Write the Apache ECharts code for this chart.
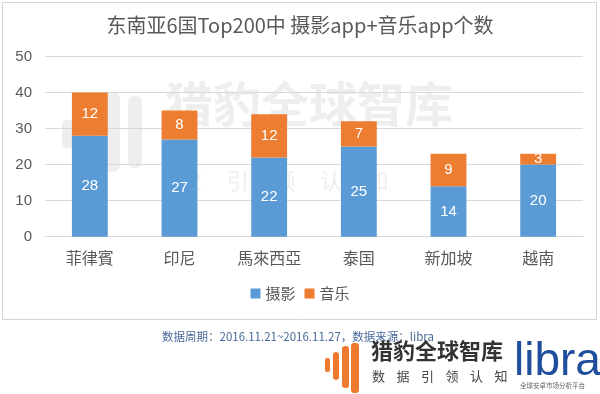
<!DOCTYPE html>
<html><head><meta charset="utf-8">
<script src="https://cdn.jsdelivr.net/npm/echarts@6/dist/echarts.min.js"></script>
<style>html,body{margin:0;padding:0;background:#fff}#c{width:600px;height:394px}</style>
</head><body><div id="c"></div>
<script>
const categories = ['菲律賓','印尼','馬來西亞','泰国','新加坡','越南'];
const photo = [28,27,22,25,14,20];
const music = [12,8,12,7,9,3];
const seriesNames = ['摄影','音乐'];
const titleText = '东南亚6国Top200中 摄影app+音乐app个数';
const footText = '数据周期：2016.11.21~2016.11.27，数据来源：libra';
const sloganChars = ['数','据','引','领','认','知'];

const chart = echarts.init(document.getElementById('c'));
const font = '"Microsoft YaHei","Noto Sans CJK SC",sans-serif';
const wm = 'rgba(170,170,170,0.2)';
chart.setOption({
  backgroundColor:'#fff',
  animation:false,
  title:{text:titleText,left:'center',top:10,textStyle:{fontSize:20,fontWeight:'normal',color:'#595959',fontFamily:font}},
  legend:{data:seriesNames,bottom:88,left:'center',itemWidth:10,itemHeight:10,itemGap:9,icon:'rect',
    textStyle:{fontSize:15,color:'#595959',fontFamily:font}},
  grid:{left:45,right:17,top:56.5,bottom:157.3,containLabel:false},
  xAxis:{type:'category',data:categories,axisTick:{show:false},
    axisLine:{lineStyle:{color:'#d9d9d9'}},
    axisLabel:{fontSize:16,color:'#595959',margin:13,fontFamily:font}},
  yAxis:{type:'value',min:0,max:50,interval:10,
    axisLabel:{fontSize:15,color:'#595959',margin:13,fontFamily:'Arial,"Liberation Sans",sans-serif'},
    splitLine:{lineStyle:{color:'#d9d9d9'}}},
  series:[
    {name:seriesNames[0],type:'bar',stack:'a',data:photo,barWidth:'40%',itemStyle:{color:'#5b9bd5'},
     label:{show:true,position:'inside',color:'#fff',fontSize:15,fontFamily:'Arial,sans-serif'},z:3},
    {name:seriesNames[1],type:'bar',stack:'a',data:music,barWidth:'40%',itemStyle:{color:'#ed7d31'},
     label:{show:true,position:'inside',color:'#fff',fontSize:15,fontFamily:'Arial,sans-serif'},z:3}
  ],
  graphic:[
    {type:'rect',shape:{x:2.5,y:2.5,width:594,height:317},style:{fill:null,stroke:'#d4d4d4',lineWidth:1},z:-10,silent:true},
    // faint watermark
    {type:'text',left:165,top:80,style:{text:'猎豹全球智库',fontSize:48,fontWeight:'bold',fill:wm,fontFamily:font},z:-5,silent:true},
    {type:'text',left:180,top:170,style:{text:'数     引     领     认     知',fontSize:22,fill:wm,fontFamily:font},z:-5,silent:true},
    {type:'group',left:62,top:92,z:-5,silent:true,children:[
      {type:'rect',shape:{x:0,y:28,width:12,height:28,r:5},style:{fill:wm}},
      {type:'rect',shape:{x:20,y:14,width:14,height:60,r:6},style:{fill:wm}},
      {type:'rect',shape:{x:42,y:0,width:16,height:80,r:7},style:{fill:wm}},
      {type:'rect',shape:{x:66,y:4,width:14,height:72,r:6},style:{fill:wm}}
    ]},
    // footer
    {type:'text',left:162,top:331,style:{text:footText,fontSize:11.5,fill:'#4a6a9a',fontFamily:font},silent:true},
    {type:'group',left:325,top:343,silent:true,children:[
      {type:'rect',shape:{x:0,y:15,width:5,height:14,r:2},style:{fill:'#ee7a30'}},
      {type:'rect',shape:{x:8,y:9,width:6,height:28,r:3},style:{fill:'#ee7a30'}},
      {type:'rect',shape:{x:17,y:3,width:7,height:42,r:3},style:{fill:'#ee7a30'}},
      {type:'rect',shape:{x:26,y:0,width:8,height:50,r:3},style:{fill:'#ee7a30'}}
    ]},
    {type:'text',left:371,top:340,style:{text:'猎豹全球智库',fontSize:22,fontWeight:'bold',fill:'#333',fontFamily:font},silent:true},
    {type:'group',left:372,top:370,silent:true,children:sloganChars.map((ch,i)=>({
      type:'text',x:i*24.5,y:0,style:{text:ch,fontSize:13,fill:'#444',fontFamily:font}}))},
    {type:'text',left:514,top:339,style:{text:'libra',fontSize:46,fill:'#1f4e9c',fontFamily:'"Liberation Sans Narrow","Liberation Sans",Arial,sans-serif'},silent:true},
    {type:'text',left:520,top:382,style:{text:'全球安卓市场分析平台',fontSize:6.5,fill:'#666',fontFamily:font},silent:true}
  ]
});
</script></body></html>
